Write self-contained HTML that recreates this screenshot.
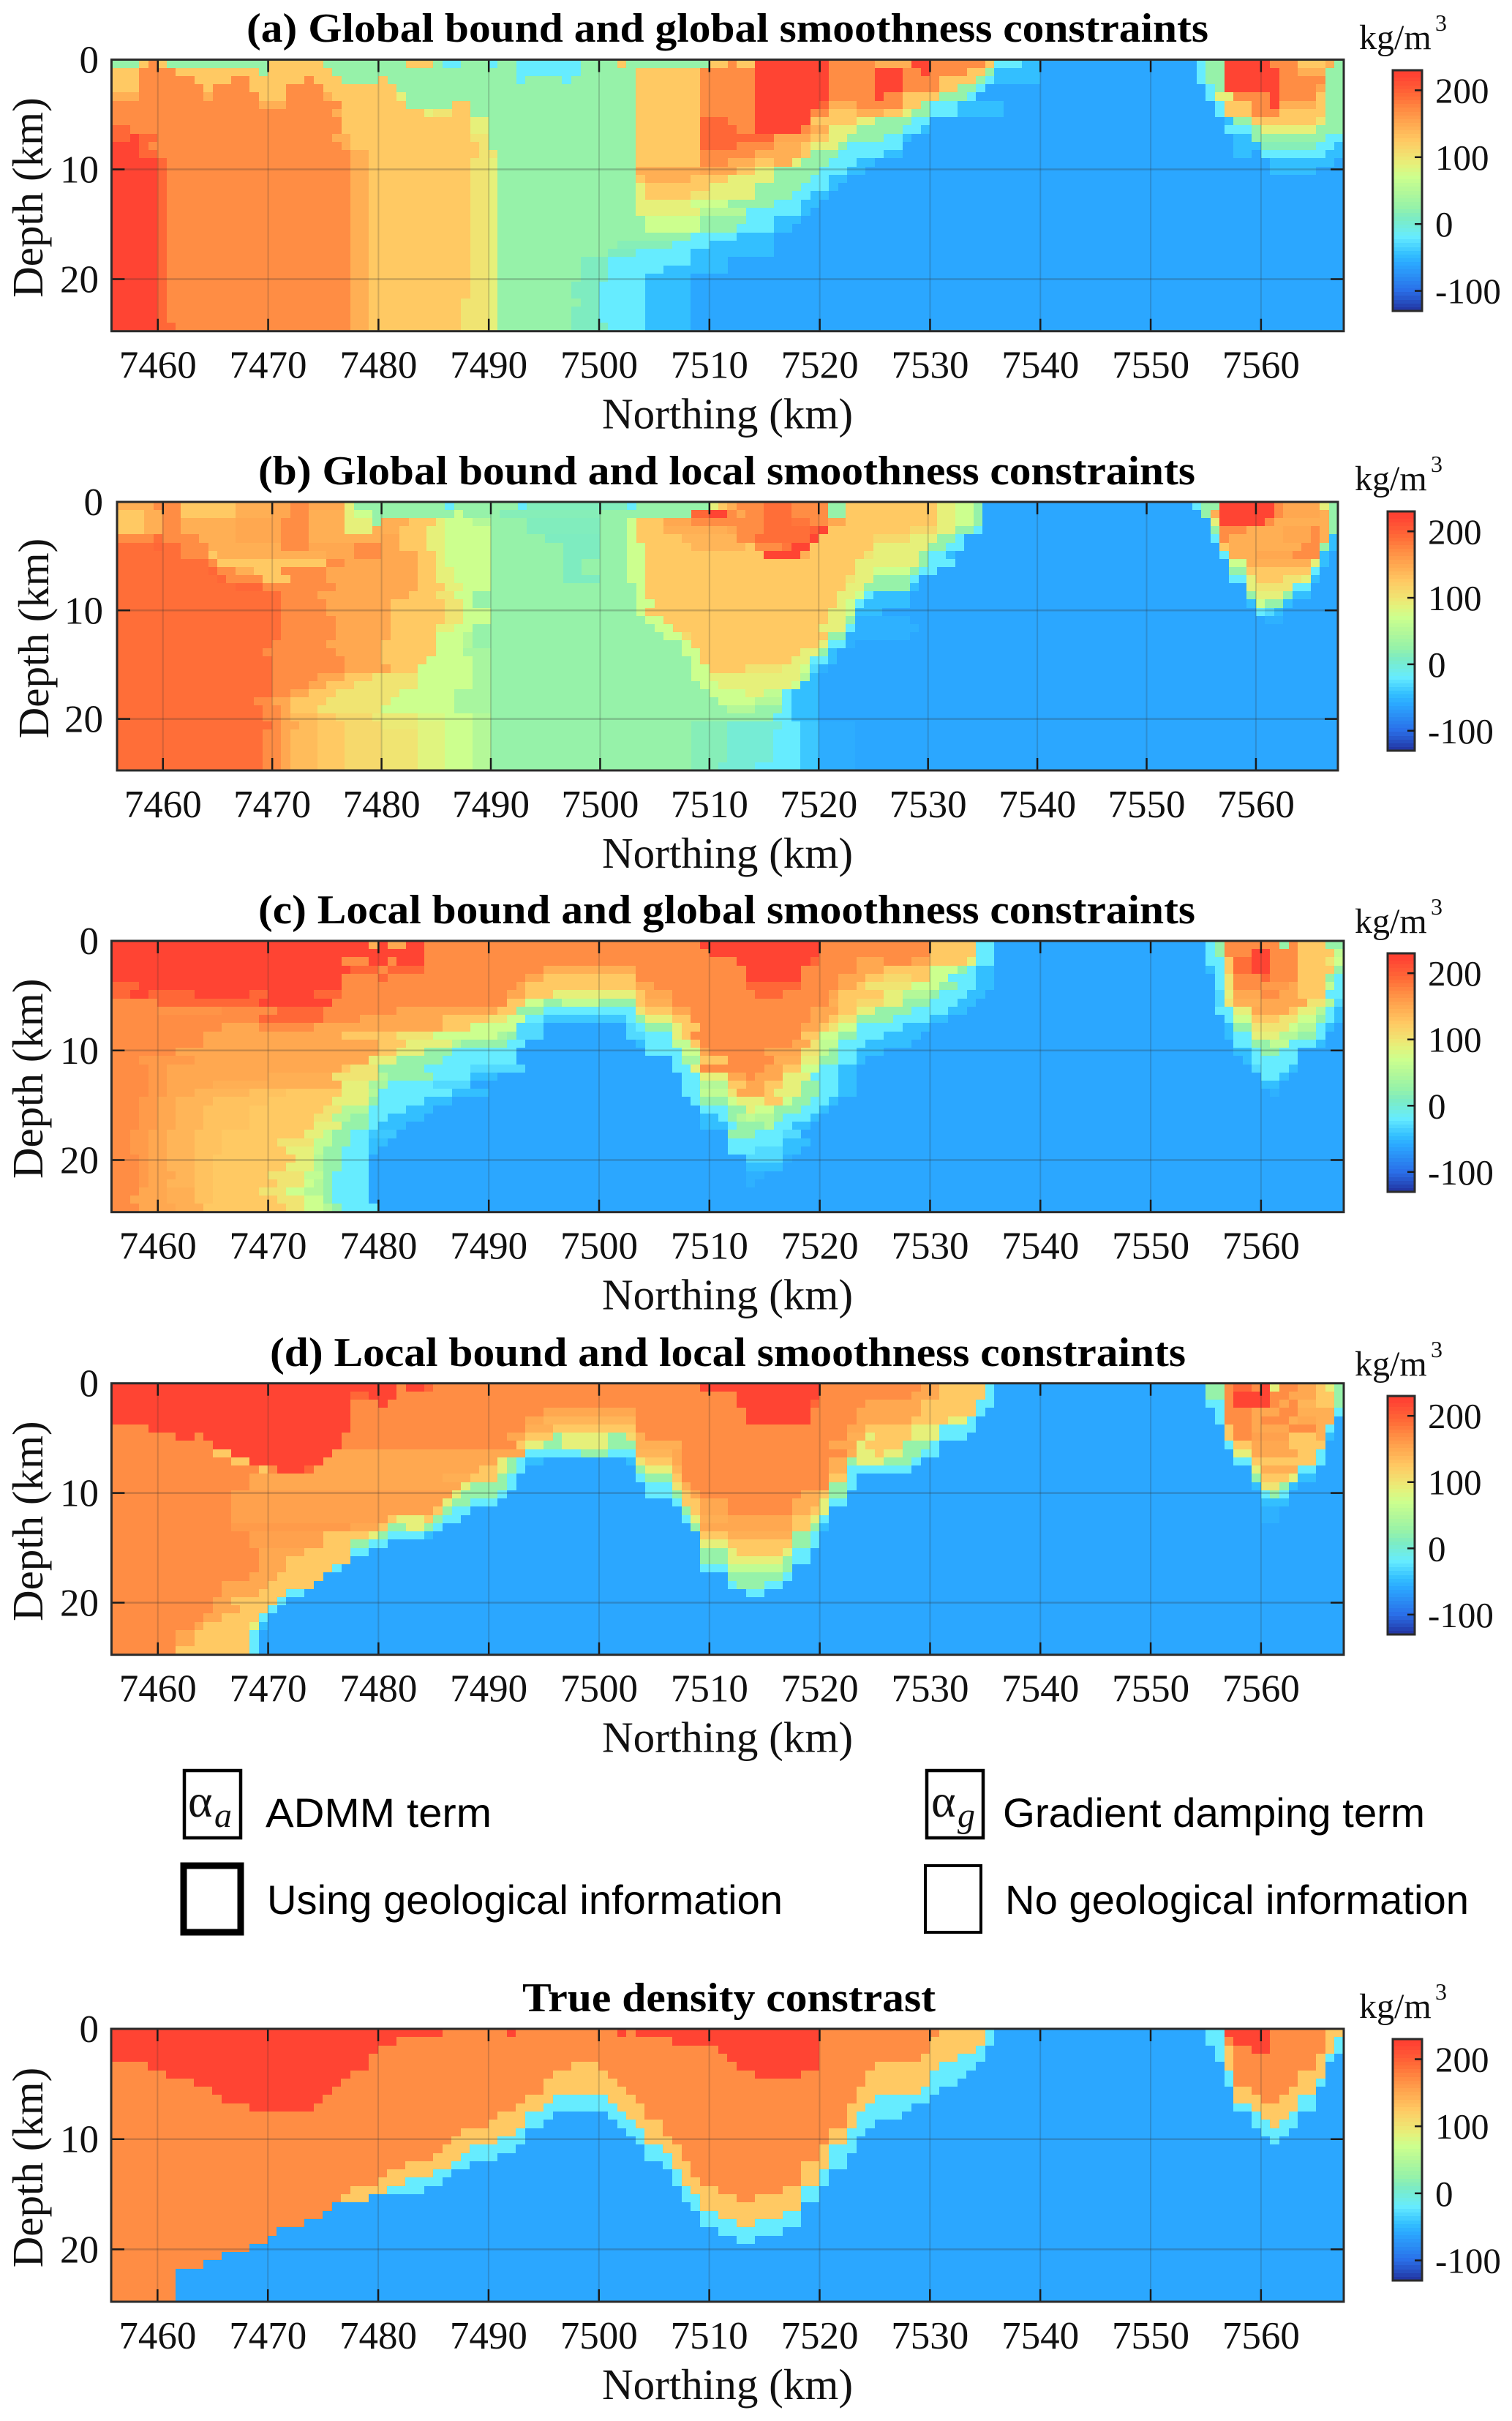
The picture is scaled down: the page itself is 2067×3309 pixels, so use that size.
<!DOCTYPE html>
<html lang="en">
<head>
<meta charset="utf-8">
<title>Density contrast inversion sections</title>
<style>
html,body{margin:0;padding:0;background:#fff;}
svg{display:block;}
text{font-family:"Liberation Serif",serif;fill:#111;}
.title{font-weight:bold;font-size:56px;fill:#000;}
.legend{font-family:"Liberation Sans",sans-serif;font-size:56px;fill:#000;}
</style>
</head>
<body>
<svg id="figure" xmlns="http://www.w3.org/2000/svg" width="2067" height="3309" viewBox="0 0 2067 3309">
  <rect x="0" y="0" width="2067" height="3309" fill="#fff"/>
  <text class="title" x="337" y="57" textLength="1315" lengthAdjust="spacingAndGlyphs">(a) Global bound and global smoothness constraints</text>
  <text class="title" x="353" y="662" textLength="1281" lengthAdjust="spacingAndGlyphs">(b) Global bound and local smoothness constraints</text>
  <text class="title" x="353" y="1262" textLength="1281" lengthAdjust="spacingAndGlyphs">(c) Local bound and global smoothness constraints</text>
  <text class="title" x="369" y="1867" textLength="1252" lengthAdjust="spacingAndGlyphs">(d) Local bound and local smoothness constraints</text>
  <text class="title" x="714" y="2749" textLength="565" lengthAdjust="spacingAndGlyphs">True density constrast</text>

  <g>
    <rect x="252" y="2420" width="77" height="92" fill="none" stroke="#000" stroke-width="4.5"/>
    <text x="257" y="2483" font-size="64" fill="#000">α</text>
    <text x="293" y="2497" font-size="48" font-style="italic" fill="#000">a</text>
    <text class="legend" x="363" y="2497" textLength="309" lengthAdjust="spacingAndGlyphs">ADMM term</text>

    <rect x="1267" y="2420" width="77" height="92" fill="none" stroke="#000" stroke-width="4.5"/>
    <text x="1273" y="2483" font-size="64" fill="#000">α</text>
    <text x="1309" y="2497" font-size="48" font-style="italic" fill="#000">g</text>
    <text class="legend" x="1371" y="2497" textLength="577" lengthAdjust="spacingAndGlyphs">Gradient damping term</text>

    <rect x="251" y="2550" width="78" height="91" fill="none" stroke="#000" stroke-width="9"/>
    <text class="legend" x="365" y="2616" textLength="705" lengthAdjust="spacingAndGlyphs">Using geological information</text>

    <rect x="1265" y="2550" width="76" height="91" fill="none" stroke="#000" stroke-width="4"/>
    <text class="legend" x="1374" y="2616" textLength="634" lengthAdjust="spacingAndGlyphs">No geological information</text>
  </g>
</svg>
<script>
// Axis tick values
const northingTicks = [7460,7470,7480,7490,7500,7510,7520,7530,7540,7550,7560];
const depthTicks = [0,10,20];
const colorbarTicks = [200,100,0,-100];

// Colour map: density value -> colour
const colormapValues = [-130,-100,-60,-45,-20,10,25,50,70,90,100,125,150,170,190,220,230];
const colormapColors = ['#22329e','#2a6fe8','#2ba7ff','#33bfff','#66ecff','#7eecc0','#96f2a9','#b4f898','#ccff8e','#e6f07a','#f0e472','#ffc963','#ffa850','#ff8d44','#ff6e38','#ff4433','#ff4030'];

// Each row is one depth slice of 0.75 km: value, end-northing (minus 7400), value, end-northing ...
const panelA = [
[25,58.3,125,59.1,170,60,125,60.9,25,70,125,75.1,25,82.7,125,85.2,25,86,-20,87.8,25,90.2,-20,91,25,92.8,-20,98.7,25,102,125,102.8,25,110,125,111.3,170,112.2,125,113.8,220,120.5,170,124.7,145,128,220,130,170,134.7,125,135.6,-20,138.2,-45,139.9,-60,154,-20,154.9,25,156.6,220,160.8,170,163.3,125,166,145,166.7,25,168],
[125,58.3,170,61.7,125,69.2,25,70,125,76,25,92.8,-20,98.7,25,103.7,125,109.5,170,113.8,220,120.5,170,124.7,220,127.2,170,129.2,220,130,170,133.1,125,134.7,25,135.6,-45,139.9,-60,154,-20,154.9,25,156.6,220,161.7,170,163.3,145,165.8,25,168],
[125,58.3,170,63.4,125,66.8,170,68.4,125,73.4,170,74.3,125,76.5,25,80.1,125,81,25,92.8,-20,93.6,25,96.9,-20,97.8,25,103.7,125,109.5,170,113.8,220,120.5,170,124.7,220,127.2,170,130.6,125,133.9,25,134.7,-20,135.6,-45,139.9,-60,154,-20,154.9,25,156.6,220,161.7,170,165.8,25,168],
[125,58.3,170,64.2,125,65.1,170,68.4,125,71.8,170,75.1,125,81.9,25,103.7,125,108.8,195,109.5,170,113.8,220,120.5,170,124.7,220,127.2,170,130.6,125,132.2,25,133.9,-20,134.7,-60,154.9,-20,155.7,25,156.6,220,161.7,170,164.9,150,165.8,25,168],
[145,58.3,170,64.2,145,65.1,170,69.2,125,71.8,170,75.1,145,76,125,81.9,90,82.7,25,103.7,125,108.8,195,109.5,170,113.8,220,120.5,170,124.7,220,125.5,170,127.2,125,130.6,25,133.1,-20,133.9,-60,154.9,-20,155.7,90,157.5,170,160.8,220,161.7,170,164.9,125,165.8,25,168],
[170,69.2,145,71.8,170,76.8,125,82.7,25,86.9,125,88.6,25,103.7,125,108.8,195,109.5,170,113.8,220,119.7,195,120.5,145,123,170,127.2,125,128.9,25,129.8,-20,132.2,-45,136.4,-60,155.7,-20,156.6,125,159.2,170,160.8,220,161.7,145,164.9,125,165.8,25,168],
[170,76,145,76.8,125,84.4,90,85.2,100,86.9,125,88.6,25,103.7,125,108.8,195,109.5,170,113.8,220,118.8,170,120.5,125,123,145,125.5,125,127.2,90,128.1,25,129.8,-20,132.2,-45,136.4,-60,155.7,-20,156.6,125,159.2,170,161.7,125,165.8,25,168],
[170,76.8,125,88.6,90,90.2,25,103.7,125,108.8,195,111.3,170,113.8,220,118.8,170,119.5,125,123,90,124.7,25,128.1,-20,129.8,-60,156.6,-45,157.5,25,159.2,125,164.9,100,165.8,25,168],
[195,57.5,170,76.8,125,88.6,90,90.2,25,103.7,125,108.8,195,112.2,170,113.8,220,118,170,119.5,145,120.5,90,123,25,127.2,-20,128.9,-45,129.8,-60,156.6,-20,159.2,25,160,90,164.9,25,168],
[195,57.5,220,58.3,195,60,170,76,145,77.6,125,88.6,100,90.2,25,103.7,125,108.8,195,113.8,195,116.2,150,118.8,125,120.5,90,122.4,25,125.5,-20,127.2,-45,128.1,-60,157.5,-45,159.2,25,165.8,-20,168],
[220,58.3,195,59.1,170,77,145,77.6,125,89.5,100,90.2,25,103.7,125,108.8,195,112.2,170,116.2,145,118,125,119.5,90,121.5,25,122.4,-20,127.2,-60,157.5,-45,160,15,164.9,-20,166.7,-45,168],
[220,58.3,195,60,170,77.6,145,79.3,125,89.5,100,90.6,25,103.7,125,108.8,170,113.8,145,118,125,118.8,90,119.5,25,121.5,-20,125.5,-45,127.2,-60,157.5,-45,159.2,-60,160,-20,165.8,-45,168],
[220,60,195,60.9,170,77.6,145,79.3,125,88.6,100,90.2,90,91,25,103.7,125,108.8,170,111.3,145,113.8,125,116.2,145,117.1,90,118,25,120.6,-20,123,-45,124.7,-60,160.8,-45,166.7,-60,168],
[220,60,195,60.9,170,77.6,145,79.3,125,88.6,100,90.2,90,91,25,103.7,145,108.8,150,112.2,125,114,90,116.2,25,119.7,-20,122.4,-45,124,-60,160.8,-45,164.9,-60,168],
[220,60,195,60.9,170,77.6,145,79.3,125,88.6,100,90.2,90,91,25,103.7,125,104.5,145,107.9,125,112,90,116.2,25,118.8,-20,120.6,-45,122.4,-60,168],
[220,60,195,60.9,170,77.6,145,79.3,125,88.6,100,90.2,90,91,25,103.7,90,104.5,125,110,90,114,25,118,-20,120.6,-45,122,-60,168],
[220,60,195,60.9,170,77.6,145,79.3,125,88.6,100,90.2,90,91,25,103.7,90,104.5,125,107.9,100,110,90,114,25,117.1,-20,118.8,-45,120.6,-60,168],
[220,60,195,60.9,170,77.6,145,79.3,125,88.6,100,90.2,90,91,25,103.7,90,108,70,112,25,116.2,-20,118,-45,119.7,-60,168],
[220,60,195,60.9,170,77.6,145,79.3,125,88.6,100,90.2,90,91,25,103.7,90,109.5,50,113,-20,118,-45,118.8,-60,168],
[220,60,195,60.9,170,77.6,145,79.3,125,88.6,100,90.2,90,91,25,104.5,70,108.8,25,113,-20,116.2,-45,118,-60,168],
[220,60,195,60.9,170,77.6,145,79.3,125,88.6,100,90.2,90,91,25,104.5,70,108.8,25,112.2,-20,116.2,-45,117.1,-60,168],
[220,60,195,60.9,170,77.6,145,79.3,125,88.6,100,90.2,90,91,25,107.9,-20,112.2,-45,116.2,-60,168],
[220,60,195,60.9,170,77.6,145,79.3,125,88.6,100,90.2,90,91,25,101.5,15,106.7,-20,110,-45,116,-60,168],
[220,60,195,60.9,170,77.6,145,79.3,125,88.6,100,90.2,90,91,25,101,10,103.7,-20,108,-45,116.2,-60,168],
[220,60,195,60.9,170,77.6,145,79.3,125,88.6,100,90.2,90,91,25,98.7,10,101,-20,107.9,-45,111.3,-60,168],
[220,60,195,60.9,170,77.6,145,79.3,125,88.6,100,90.2,90,91,25,98.7,10,101,-20,106,-45,111.3,-60,168],
[220,60,195,60.9,170,77.6,145,79.3,125,88.6,100,90.2,90,91,25,98.7,10,100.5,-20,104.5,-45,107.9,-60,168],
[220,60,195,60.9,170,77.6,145,79.3,125,88.6,100,90.2,90,91,25,97.8,10,100.2,-20,104.5,-45,107.9,-60,168],
[220,60,195,60.9,170,77.6,145,79.3,125,88.6,100,90.2,90,91,25,97.8,10,100.2,-20,104.5,-45,107.9,-60,168],
[220,60,195,60.9,170,77.6,145,79.3,125,87.8,100,90.2,90,91,25,98.7,10,100.2,-20,104.5,-45,107.9,-60,168],
[220,60,195,60.9,170,77.6,145,79.3,125,87.8,100,90.2,90,91,25,97.8,10,100.2,-20,104.5,-45,107.9,-60,168],
[220,60,195,60.9,170,77.6,145,79.3,125,87.8,100,90.2,90,91,25,97.8,10,100.2,-20,104.5,-45,107.9,-60,168],
[220,60,195,61.7,170,77.6,145,79.3,125,87.8,100,90.2,90,91,25,97.8,10,100.5,-20,104.5,-45,107.9,-60,168]
];

const panelB = [
[145,59.2,170,61.7,125,66.6,145,70,150,71.7,170,73.5,150,76.8,90,77.6,25,86.1,-20,86.9,25,92.8,-20,93.7,12,102.7,-20,103.6,25,110,90,111,125,112,145,112.9,170,114.6,190,117.1,170,120.5,25,122.1,125,130.5,90,132.2,70,133.9,25,134.7,-60,154,-20,154.9,25,156.6,220,161.7,170,162.6,150,165.9,90,166.7,25,168],
[125,58.3,145,60,170,62,125,66.6,145,70,150,71.7,170,73.5,145,76.8,90,77.6,70,79.4,25,86.9,70,87.7,25,91,15,100,25,108.7,195,109.7,220,111.3,170,112.2,150,113,170,114.6,190,117.1,170,120.5,25,122.1,125,130.5,90,132.2,70,133.9,25,134.7,-60,154.9,25,155.7,145,156.6,220,161.7,170,162.6,150,165.9,145,166.7,25,168],
[125,58.3,145,60,170,61.7,145,66.6,150,71,170,73.5,145,76.8,90,79.4,25,80,145,82.7,125,85.2,90,86.1,70,88.6,50,90,25,93.7,12,100,25,102.7,70,103.6,125,106.2,150,108.7,170,114.6,190,117.1,185,118.8,170,120.5,150,122.1,125,130.5,90,132.2,70,133.9,25,134.7,-60,155.7,90,156.6,220,160.8,170,161.7,145,166.7,25,168],
[125,58.3,145,60,170,61.7,145,66.6,150,71,170,73.5,145,76.8,90,79.4,145,81.8,125,84.4,90,86.1,70,90,25,93.7,12,100,25,102.7,70,103.6,125,106.2,145,112,150,112.9,170,114.6,190,118.8,200,119.7,220,120.5,125,128,110,130.5,90,132.2,25,133.9,-20,134.7,-60,155.7,25,156.6,170,159.2,145,162.6,150,165,170,165.9,145,166.7,25,168],
[170,59,190,60,170,63.3,145,66.6,150,71,170,73.5,145,80,150,81.8,125,84.4,90,86.1,70,90,25,95.2,10,100,25,102.7,70,103.6,125,107.1,140,112.9,170,114,190,118.8,220,119.7,125,124.7,110,128.1,90,130.5,25,132.2,-20,133.1,-60,155.7,-20,156.6,170,157.4,145,162.6,150,165,170,165.9,145,166.7,-45,168],
[190,59.2,195,60,190,61.7,170,64.2,145,71,170,73.5,150,77.6,170,80,150,81.8,125,84.4,90,86.1,70,90,25,96.3,10,100,25,102.7,70,104.5,125,108,140,113,125,113.8,170,116.4,185,117.1,220,118.8,125,124.7,90,129.8,25,131.4,-20,133,-60,156.6,125,157.4,145,164.2,170,165.9,25,166.7,-45,168],
[190,61.7,170,64.2,125,65.1,145,75.2,150,77.6,170,80,150,83,125,85,90,86,70,90,25,96.3,10,100,25,102.7,70,104.5,125,114.6,220,118,145,118.8,125,123.9,100,124.7,90,128.9,25,129.8,-20,131.4,-45,132.2,-60,156.6,-20,157.4,145,160,150,163.4,170,165.9,-45,166.7,-60,168],
[190,64.2,170,65.1,125,75.2,170,76.8,150,83,125,85,90,86,70,90,25,97,10,98.5,25,102.7,70,104.5,125,123,90,128.9,25,130,-20,132.2,-60,157.4,70,159.2,145,165,90,165.9,-45,166.7,-60,168],
[190,64.2,195,65.1,170,66.6,145,68.4,125,71,170,75.2,150,83,125,85.2,90,86.9,70,90,25,96.3,10,98.5,25,102.7,70,104.5,125,123,90,124.7,70,128.1,25,129.3,-20,131,-60,157.4,25,159.2,125,165,-20,165.9,-60,168],
[190,65.1,195,66,170,69.3,125,71.7,170,75.2,150,83,125,85.2,90,86.9,70,90,25,96.3,10,100,25,102.7,70,104.5,125,122.1,100,123,90,124.7,25,128.1,-20,128.9,-60,157.4,-20,159.2,90,160,125,162.6,100,164.2,90,165,-45,165.9,-60,168],
[190,66.6,195,69.3,170,76,150,83.6,125,85.5,90,87.7,70,90,25,103.6,70,104.5,125,122.1,90,123.9,25,128.1,-45,128.9,-60,159.2,90,160,100,163.4,-20,165,-60,168],
[190,70.5,170,74,150,82.7,125,85.2,100,86.9,70,88.6,25,103.6,70,104.5,125,122,90,123,70,123.9,-20,124.7,-45,128,-60,159.2,25,160,90,162.6,25,163.4,-45,165,-60,168],
[190,71,170,75,150,81,125,86,100,87.7,70,88.6,25,103.6,70,105,125,122,90,122.6,70,123,-20,123.9,-45,128,-60,159.2,-45,160,70,161,25,162.6,-45,163.4,-60,168],
[190,71,170,75,150,81,125,86,100,87.7,70,90,25,103.6,70,104.5,125,121,90,122.1,70,123,-45,126,-60,160,-20,160.8,-30,161.7,-45,162.6,-60,168],
[190,71,170,76,150,81,125,86,100,87.7,70,90,25,104.5,70,106,125,120.5,90,122.1,25,123,-54,128,-60,160.8,-54,162.6,-60,168],
[190,71,170,76,150,81,125,85.2,90,86.9,70,88,25,105,70,107,125,120,90,122.1,-20,123,-54,129,-60,168],
[190,71,170,76,150,81,125,85.2,70,87.7,50,88.6,25,106.2,70,107.5,110,108,125,120.5,25,122.1,-54,128,-60,168],
[190,70,170,75,150,80,125,85.2,70,87.7,50,88.6,25,107.1,70,108.2,125,119.7,90,120.5,-20,122.1,-54,123,-60,168],
[190,69,170,75.5,150,80,125,85.2,70,87.7,40,90,25,107.5,70,109,125,118,90,119.7,25,120.5,-45,122,-60,168],
[190,70,170,76.8,150,80,125,84.5,70,88.6,40,90,25,108,70,109.5,125,117.1,90,119,-20,120.5,-45,122,-60,168],
[190,70,170,76.8,150,80.9,125,83.6,70,88.6,40,90,25,108.7,70,110,125,113,100,116.4,90,118,70,118.8,-30,120,-54,121,-60,168],
[190,70,170,74,150,76.5,125,79.4,100,83,70,88.6,40,90,25,108.7,70,110,90,118,50,118.8,-45,120,-60,168],
[190,70,170,73,150,75.2,125,77.6,100,83,70,88,40,90,25,109.5,70,111,90,117.1,70,118,-45,120,-60,168],
[190,70,170,72,150,73.5,125,76,100,82,70,87,40,90,25,110,70,113,90,114.6,60,116.4,-20,117.5,-45,119.7,-60,168],
[190,68,170,70,150,71.7,125,75,100,81,70,87,40,90,25,111,70,114,50,116.4,-20,117.1,-45,119.7,-60,168],
[190,69,170,70.5,150,72,125,74,100,80,70,87,40,90,25,112,50,113.8,25,116.4,-20,117.7,-45,119.7,-60,168],
[190,69.5,170,70.5,150,72,135,74,125,76,110,79.4,95,83,80,85.5,70,88.6,50,90,25,115.5,-20,117.7,-45,119.7,-60,168],
[190,70,170,71,150,72.5,135,74.5,125,76.5,110,80,95,83,85,85.5,70,88.6,50,90,25,108.7,15,112,0,116.4,-20,118,-40,119.8,-56,123,-60,168],
[190,69,170,70.5,150,72,135,74.5,125,77,110,80,100,83,85,85.5,70,88.6,50,90,25,108.7,15,111.5,0,115.5,-20,118,-40,119.8,-56,123,-60,168],
[190,69,170,70.5,150,72,135,74.5,125,77,110,80,100,83,85,85.5,70,88.6,50,90,25,108.7,15,111.5,0,115.5,-20,118,-40,119.8,-56,123,-60,168],
[190,69,170,70.5,150,72,135,74.5,125,77,110,80,100,83,85,85.5,70,88.6,50,90,25,108.7,15,111.5,0,115.5,-20,118,-40,119.8,-56,123,-60,168],
[190,69,170,70.5,150,72,135,74.5,125,77,110,80,100,83,85,85.5,70,88.6,50,90,25,108.7,15,111.5,0,115.5,-20,118,-40,119.8,-56,123,-60,168],
[190,69,170,70.5,150,72,135,74.5,125,77,110,80,100,83,85,85.5,70,88.6,50,90,25,108.7,15,111,0,114,-20,118,-40,119.8,-56,123,-60,168]
];

const panelC = [
[220,79.3,145,80.1,220,81,150,82.7,220,84.4,170,108.8,220,119.6,170,129.7,125,133.9,-20,135.6,-60,154.9,-20,155.7,25,156.6,170,161.7,25,162.5,170,163.4,125,165.8,25,168],
[220,84.4,170,110,220,119.6,170,129.7,125,133.9,-20,135.6,-60,154.9,-20,156,25,156.6,170,159.4,220,160.8,170,163.4,125,166.7,60,168],
[220,76.8,170,79.3,220,80.9,170,81.5,220,84.4,170,112.2,220,118.8,195,119.6,170,123,150,125.6,170,128,150,129.7,125,133,90,133.9,-20,135.6,-60,154.9,-20,156.6,125,157.4,190,159.4,220,160.8,170,163.4,125,165.8,100,166.7,70,168],
[220,77.6,195,80,170,81,195,84.4,170,95.2,145,103,170,113.5,220,118,170,123,150,125.6,125,129.7,70,132.2,25,133,-20,134.5,-45,135.6,-60,155,-45,155.7,-20,156.6,125,157.4,190,159.1,220,160.8,170,163.4,125,166.7,25,168],
[220,76.8,170,80.1,195,81,170,93.6,150,95.2,125,102.9,145,103.7,170,113.7,220,118,170,122,150,123.8,125,125.6,110,128,125,129.7,70,131.4,25,132,-20,134,-45,135.6,-60,155.7,-20,156.6,100,157.4,170,160,195,160.8,170,163.4,125,165.8,25,166.7,-20,168],
[195,58.3,220,76.8,170,92.8,150,93.6,125,103.7,150,105,170,113.7,195,118,170,121.3,150,123,125,124.5,100,128,70,131,25,132.2,-20,133.9,-45,135.6,-60,155.7,-20,156.6,100,157.4,170,160,160,162.5,150,163.4,125,165.8,60,166.7,-20,168],
[195,57.5,220,59.1,195,63,220,68,195,70,220,74.3,195,76.8,170,92,150,93.6,125,96.1,90,102.9,125,104.5,150,106.3,170,114,195,116.3,170,121,150,122,125,125.6,90,127.3,50,129.7,25,130.5,-20,133,-45,135,-60,155.7,-30,156.6,90,157.4,150,160,170,162,150,163.4,125,166,-20,168],
[170,60,195,69.2,220,76,170,92,125,93.6,70,95.2,25,96.9,60,100.2,25,102.9,125,104.5,145,106.3,170,121,145,122,125,123,110,125.6,90,127.3,25,130,-20,132.2,-45,133.9,-60,155.7,-30,156.6,100,157.4,145,160,150,164,100,165.8,50,166.7,-30,168],
[170,60,165,66,170,71,195,75.1,170,82,150,91,125,92.8,25,95.2,-20,102.9,100,104.5,125,106.3,150,108,170,118.8,150,121.3,125,123,90,125,25,128,-20,131.4,-45,133,-60,155.7,-20,157.4,90,159.1,150,162.5,125,163.4,90,165,50,165.8,-20,166.7,-45,168],
[170,69,195,75,170,78,150,86,125,90,100,92,70,93.6,-20,95.2,-40,102.1,-20,102.9,25,104.5,90,106.3,125,108,170,118.8,150,120.5,125,121.5,100,123,25,127,-20,130,-45,132,-60,156.6,-20,157.4,70,159.1,125,162,100,163.4,70,165,25,165.8,-20,166.7,-45,168],
[170,66,150,69,170,74,150,86,125,88.6,70,92.8,-30,95.2,-60,102.1,-30,103.7,-20,104.5,25,106.3,90,107.5,125,109,170,118,150,119.6,125,120.5,100,122,70,123,-20,127.3,-45,130,-60,156.6,-45,157.4,25,159.1,100,162.5,70,163.4,50,165,-20,165.8,-45,166.7,-60,168],
[170,64,150,76.8,125,81.9,100,85.2,70,90.4,40,92,25,92.8,-30,95.2,-60,102.5,-30,104.5,-20,106.3,90,107.1,125,108.5,170,118,125,120,70,121.3,25,123,-20,125.6,-45,129,-60,156.6,-45,157.4,-20,159.1,90,161.7,50,163.4,25,165,-20,166,-60,168],
[170,64,150,80.1,125,82.7,90,86.9,50,87.8,25,92,-20,93.6,-60,102.9,-45,104.5,-20,106.3,60,108,125,109.5,170,117.1,150,118.8,100,120,60,121.3,25,122,-20,124,-45,128,-60,157.4,-20,159.1,25,160.8,60,162.5,-20,165,-45,165.8,-60,168],
[170,62,150,80.1,125,81.9,90,84.4,25,86.9,-20,92.8,-60,104.5,-20,107.1,70,108.8,150,110,170,115,150,118,100,119.6,60,120.5,25,122,-20,123.5,-45,125.6,-60,157.4,-45,159.1,-20,160,25,161.7,-20,163.4,-60,168],
[170,58.3,160,63,150,79.3,90,81.9,25,86,-20,92.8,-60,106.3,-20,107.1,40,108.8,125,111.3,170,116,145,118,90,119.6,25,121.3,-20,123,-45,123.8,-60,158,-45,159.1,-20,163,-60,168],
[170,59,160,61,150,76.8,125,77.6,100,80.1,25,84.4,-20,88.6,-30,93,-60,106.3,-20,108,90,109.5,170,114.6,150,116.3,125,118,70,119.6,-20,122,-45,123,-60,159.1,-30,160,-20,162.5,-45,163.4,-60,168],
[170,59,160,61,150,70,145,76,100,80.1,50,81,25,85.2,-20,88.6,-45,91,-60,107.1,-20,108.8,90,111.3,150,113,170,114,150,117,90,118.8,-20,121.3,-45,123,-60,160,-20,161.7,-45,162.5,-60,168],
[170,59,160,61,150,65,145,76.8,90,79.3,40,81,-20,85.2,-30,88.6,-60,107.1,-20,108.8,50,111.3,125,113,150,115,125,117,90,118,25,119.6,-20,121.3,-45,123,-60,160,-45,161.7,-60,168],
[170,59,160,61,150,63,140,68,130,72,125,76.8,90,79.3,50,80.1,-20,86.9,-45,90,-60,107.1,-20,108.8,30,109.5,60,111.3,100,112.2,150,114.6,125,116,90,118,25,119.6,-20,121.3,-45,123,-60,161,-54,161.7,-60,168],
[170,58.3,160,60,150,62,140,65,130,70,125,76,90,79.3,25,80.1,-20,84.4,-45,86.9,-60,108,-20,109.5,25,111.3,70,112.9,90,114.6,125,116.3,70,117.1,25,118.8,-20,120.5,-45,121.3,-60,168],
[170,58.3,160,60,150,62,140,64,130,68,125,75.1,100,76.8,50,79.3,-20,82.7,-45,85.2,-60,108.8,-20,111.3,25,113,90,114,70,116,25,118,-20,119.6,-45,120.5,-60,168],
[170,58.3,160,60,150,62,140,64,130,68,125,74.3,100,76,50,77.6,25,79.3,-20,81,-45,84.4,-60,109.5,-45,110.5,-20,111.3,25,112.2,50,113,60,114,50,116,25,117,-20,118.8,-45,119.6,-60,168],
[170,58.3,160,60,150,62,140,64,130,68,125,74.3,90,76.8,25,79.3,-20,80.1,-45,82.7,-60,109.5,-45,111.3,-20,112.2,25,114.6,50,116,-20,117.1,-45,118.8,-60,168],
[170,57.5,160,59,150,61,140,63,130,66,125,73.6,90,75.1,60,76,25,77.6,-20,79.3,-40,81.9,-60,111.3,-20,112,25,114,-20,116.3,-30,118,-60,168],
[170,57.5,160,59,150,61,140,63,130,66,125,71,100,74.3,60,76,25,77.6,-20,79.3,-45,81,-60,112,-20,116.3,-45,118.8,-60,168],
[170,57.5,160,59,150,61,140,63,130,66,125,71.9,90,74.3,60,75.1,25,76.8,-20,79.3,-45,80.1,-60,112,-20,114,-30,116.3,-45,118,-60,168],
[170,58.3,160,59.5,150,61,140,63,130,65,125,72.5,90,74.3,50,75.1,25,76.8,-20,79.3,-60,113,-30,116.3,-54,117.1,-60,168],
[170,58.3,160,59.5,150,61,140,63,130,65,125,71.9,90,74.3,50,75.1,25,76.8,-20,79.3,-60,113,-45,116.3,-60,168],
[170,58.3,160,59.5,150,61.7,140,63,130,65,125,70,100,73.4,60,75.1,25,76,-20,79.3,-60,113,-54,115,-60,168],
[170,58.3,160,59.5,150,60.9,140,63,130,65,125,71,100,73,70,74.3,50,75.1,25,76,-20,79.3,-60,113,-54,114,-60,168],
[170,58,150,60.9,145,63,130,65,125,69.2,100,71.9,70,73.4,50,75.1,25,76,-20,79.3,-60,168],
[170,57.5,150,61,145,63.4,130,65,125,71,100,73.4,70,75.1,25,76,-20,79.3,-60,168],
[170,58.3,150,61.7,145,64,125,71.9,100,73.4,70,75.1,50,76,25,76.8,-20,80.1,-60,168]
];

const panelD = [
[220,81.9,170,82.7,220,84.4,195,85.2,170,108.8,220,119.7,170,128.8,150,130.5,125,134.8,-20,135.6,-60,154.9,25,156.6,170,157.4,195,159.1,170,160,220,160.8,90,161.7,170,163.4,150,165,125,165.8,90,166.7,25,168],
[220,77.6,195,79.3,220,81.9,170,112.2,220,119.7,170,128,150,130.5,125,134.8,-20,135.6,-60,154.9,25,156.6,170,157.4,220,160.8,170,162.5,150,165,125,166.7,25,168],
[220,77.6,170,80.1,220,81,170,112.9,220,118.8,195,119.7,170,123.8,150,128.8,125,133.9,-20,135.6,-60,154.9,-20,156.6,170,157.4,220,160.8,170,161.7,150,162.5,170,163.4,140,165,125,166.7,25,168],
[220,77.6,170,95.2,150,102.9,170,113.2,220,118.8,170,123,150,128.8,125,133.9,-20,134.8,-60,155.7,-20,156.6,170,159.1,150,161.7,170,163.4,145,166.7,-20,168],
[220,77.6,170,93.6,150,95.2,140,102.9,170,113.5,220,118.8,170,123,150,128,125,131.4,90,133,-20,133.9,-60,155.7,-20,156.6,170,159.1,150,160,170,162.5,145,163.4,150,165,145,166.7,-60,168],
[170,59.1,220,77.6,170,93.6,145,96.1,125,102.9,170,122.2,150,123.8,125,128,90,130.5,-20,133.9,-60,156.6,125,157.4,170,159.1,150,162.5,170,165,145,165.8,-20,166.7,-60,168],
[170,61.7,220,63.4,170,64.2,220,76.8,170,92,150,93.6,125,96.1,25,96.9,90,101.1,25,102.1,110,102.9,145,104.5,170,122.2,145,123.8,90,124.7,125,128,90,130.5,-20,133,-60,156.6,125,157.4,170,159.1,155,162.5,125,165,145,165.8,-45,166.7,-60,168],
[170,65.1,220,76.8,170,92.8,125,93.6,90,95.2,25,96.9,90,101.1,25,102.9,145,107.8,170,120.5,150,123,90,123.8,125,127.4,25,129.8,-20,130.5,-60,156.6,-20,157.4,125,159.1,150,162.5,125,165.8,-60,168],
[170,65.1,125,66.8,220,76,150,93.6,-20,98.6,25,101.1,-20,102.9,25,103.7,140,106.3,150,107.8,170,122.2,145,123,90,124.7,125,125.6,90,127.4,25,128.9,-20,130.5,-60,157.4,90,159.1,150,163.4,125,165,-20,165.8,-60,168],
[170,66.8,125,68.4,220,75.1,150,91.2,90,92,25,92.8,-20,93.6,-45,95.2,-60,102.1,-45,102.9,-20,103.7,100,104.5,125,106.3,150,107.8,170,120.5,145,122.2,25,123,90,125.6,25,128,-20,128.9,-60,157.4,-20,159.1,125,165,-20,165.8,-60,168],
[170,69.2,125,70,170,70.9,220,73.5,195,74.2,150,89.5,125,91.2,90,92,25,92.8,-20,93.6,-60,102.9,-20,103.7,25,104.5,90,106.3,140,107.8,170,120.5,145,122.2,-20,128,-60,159.1,90,160,145,163.4,-20,165,-60,168],
[170,68.4,150,86,145,88.6,125,90.4,90,91.2,25,92,-20,92.8,-60,102.9,-20,104.5,25,106.3,125,107.1,150,107.8,170,120.5,125,122.2,-20,123,-60,159.1,25,160,125,162.5,90,163.4,-45,165,-60,168],
[170,68.4,150,87.8,90,88.6,25,92,-20,92.8,-60,103.9,-20,106.3,100,107.1,145,108,170,120.5,25,122.2,-20,123,-60,159.1,-45,160,100,161.7,25,162.5,-45,163.4,-60,168],
[170,66.6,155,86.9,90,87.8,25,90.4,-20,92,-60,104.5,-20,106.3,25,107.1,125,108,150,109.5,170,118,145,119.6,125,120.5,25,122.2,-60,160,-20,160.8,25,161.7,-20,162.5,-60,168],
[170,66.6,155,86,90,86.9,25,88.6,-20,91.2,-60,106.3,-20,107.1,25,107.8,125,108.8,150,111.3,170,117.1,145,119.6,90,120.5,-20,122.2,-60,160,-45,162.5,-60,168],
[170,66.6,155,85.2,125,86,25,86.9,-20,88.6,-60,107.1,25,108,125,108.8,150,111.3,170,117.1,145,118.8,125,119.6,90,120.5,-60,160,-54,161.7,-60,168],
[170,66.6,155,81,125,81.9,90,84.4,125,85.2,25,86,-20,87.8,-60,107.1,-20,108,90,108.8,145,111.3,150,117.9,125,118.8,90,119.6,-20,120.5,-60,160,-54,161.7,-60,168],
[170,66.6,160,77.5,150,80.1,125,81,25,82.7,90,84.4,25,85.2,-20,86,-60,108,25,108.8,125,109.5,150,117.9,125,118.8,25,119.6,-45,120.5,-60,168],
[170,68.4,155,75.1,125,79.3,90,80.1,25,81,-20,84.4,-45,85.2,-60,108.8,-20,109.5,125,111.3,145,117.1,125,117.9,25,118.8,-20,119.6,-60,168],
[170,68.4,155,75.1,125,77.6,25,79.3,-20,81,-60,108.8,-20,109.5,90,111.3,125,117.1,90,117.9,25,118.8,-20,119.6,-60,168],
[170,69.2,150,73.6,125,77.6,-20,79.3,-60,109.5,25,111.3,90,112.8,125,116.3,90,117.1,25,117.9,-20,118.8,-60,168],
[170,69.2,150,71.9,125,77.6,-60,109.5,25,111.3,90,116.3,25,117.9,-20,118.8,-60,168],
[170,69.2,150,71.8,125,76,-20,76.8,-60,109.5,-20,111.3,25,112,60,116.3,25,117.1,-20,117.9,-60,168],
[170,68.4,150,70.9,125,75.1,-60,111.3,25,116.3,-20,117.1,-60,168],
[170,66,150,70,125,74.2,-60,111.3,-20,112.9,25,114.6,-20,116.3,-60,168],
[170,66,150,69.2,125,71.8,-20,73.4,-60,113,-20,114.6,-60,168],
[170,65.1,150,66.6,125,70.9,-20,71.8,-60,168],
[170,65.1,150,67.5,125,70,-20,70.9,-60,168],
[170,64.2,150,66,125,69.2,-20,70,-60,168],
[170,63.4,150,64.2,125,68.4,90,69.2,-45,70,-60,168],
[170,61.7,150,63.4,125,68.4,-20,69.2,-60,168],
[170,61.7,150,63.4,125,68.4,-20,69.2,-60,168],
[170,61.7,125,68.4,-20,69.2,-60,168]
];

const panelTrue = [
[220,86,170,91.8,220,92.7,170,102,220,102.8,170,103.6,220,120.4,170,130.5,125,134.8,-20,135.6,-60,154.9,-20,156.5,220,160.8,170,165.8,125,168],
[220,81.8,170,107,220,120.4,170,129.8,125,134.8,-20,135.6,-60,154.9,-20,156.5,170,157.4,220,160.8,170,165.8,125,166.7,-20,168],
[220,80.2,170,111.2,220,120.4,170,129.7,125,134,-20,134.7,-60,155.7,-20,156.5,125,157.4,170,159.1,220,160.8,170,165.8,125,166.7,-20,168],
[220,79.3,170,112,220,119.6,170,128.9,125,132.3,-20,134.7,-60,155.7,-20,156.5,125,157.4,170,165,125,165.8,-20,166.7,-60,168],
[170,59.1,220,79.3,170,97.8,125,100.2,170,112.9,220,119.6,170,124.7,125,130.5,-20,134,-60,156.5,125,157.4,170,165,125,165.8,-60,168],
[170,60.9,220,77.6,170,96.1,125,101.1,170,113.8,220,118.7,170,123.8,125,129.7,-20,133,-60,156.5,-20,157.4,170,163.3,125,165.8,-60,168],
[170,63.4,220,76.8,170,95.2,125,102,170,116.3,220,117,170,123.8,125,129.7,-20,132.2,-60,156.5,-20,157.4,170,163.3,125,165,-20,165.8,-60,168],
[170,65.1,220,76,170,95.2,125,102.8,170,123,125,128.9,-20,130.5,-60,157.4,125,159.1,170,162.5,125,165,-60,168],
[170,65.9,220,75.1,170,93.6,125,96.1,-20,101.1,125,103.6,170,123,125,124.7,-20,129.6,-60,157.4,125,159.9,170,161.6,125,163.3,-20,165,-60,168],
[170,68.4,220,74.3,170,92.7,125,95.2,-20,102,125,104.5,170,122.1,125,123.8,-20,128.7,-60,157.4,-20,159.1,125,163.3,-20,165,-60,168],
[170,91,125,93.6,-20,96.1,-60,101.1,-20,102.8,125,104.5,170,122.1,125,123,-20,127.2,-60,159.1,-20,159.9,125,162.5,-20,163.3,-60,168],
[170,90.2,125,93.6,-20,95.2,-60,102,-20,103.6,125,106.1,170,122.1,125,123,-20,124.7,-60,159.1,-20,160.8,125,161.6,-20,163.3,-60,168],
[170,87.7,125,92.7,-20,93.6,-60,102.8,-20,104.5,125,106.1,170,120.5,125,122.1,-20,123.8,-60,159.9,-20,162.5,-60,168],
[170,86.9,125,91,-20,93.6,-60,103.6,-20,104.5,125,107,170,120.5,125,122.1,-20,123,-60,160.8,-20,161.6,-60,168],
[170,86,125,88.6,-20,92.7,-60,104.5,-20,106.1,125,107.8,170,119.6,125,120.5,-20,123,-60,168],
[170,85.2,125,87.7,-20,91,-60,104.5,-20,107,125,107.8,170,119.6,125,120.5,-20,122.1,-60,168],
[170,82.7,125,86.9,-20,88.6,-60,106.1,-20,107,125,108.7,170,118.7,125,120.5,-20,122.1,-60,168],
[170,81,125,85.2,-20,86.9,-60,107,-20,107.8,125,108.7,170,118.7,125,119.6,-20,120.5,-60,168],
[170,80.2,125,82.7,-20,86,-60,107,-20,107.8,125,109.5,170,118,125,119.6,-20,120.5,-60,168],
[170,77.6,125,81,-20,84.3,-60,107.8,-20,108.7,125,111.2,170,117,125,118.7,-20,119.6,-60,168],
[170,76.8,125,79.3,-60,107.8,-20,109.5,125,112.1,170,114.5,125,118,-20,119.6,-60,168],
[170,76,-60,108.7,-20,109.5,125,118,-20,118.7,-60,168],
[170,75.1,-60,109.5,-20,111.2,125,116.3,-20,118,-60,168],
[170,73.4,-60,109.5,-20,112.9,125,114.5,-20,118,-60,168],
[170,70.9,-60,111.2,-20,116.3,-60,168],
[170,70,-60,112.9,-20,114.5,-60,168],
[170,68.4,-60,168],
[170,65.9,-60,168],
[170,64.2,-60,168],
[170,61.7,-60,168],
[170,61.7,-60,168],
[170,61.7,-60,168],
[170,61.7,-60,168]
];

// Layout of each subplot (page geometry, no data)
const layouts = [
  {key:'a', rows:panelA, left:152.4, right:1837, top:81.5, bottom:452.7, tickEnd:135, ylabelX:58, cbLeft:1904, cbRight:1944, cbTop:96, cbBottom:425, unitX:1858, unitY:67},
  {key:'b', rows:panelB, left:160, right:1829, top:686, bottom:1053, tickEnd:141, ylabelX:66, cbLeft:1897, cbRight:1934, cbTop:699, cbBottom:1026, unitX:1852, unitY:670},
  {key:'c', rows:panelC, left:152.4, right:1837, top:1286, bottom:1656.7, tickEnd:135, ylabelX:58, cbLeft:1897, cbRight:1934, cbTop:1303, cbBottom:1629, unitX:1852, unitY:1275},
  {key:'d', rows:panelD, left:152.4, right:1837, top:1890.7, bottom:2261.7, tickEnd:135, ylabelX:58, cbLeft:1897, cbRight:1934, cbTop:1908, cbBottom:2234, unitX:1852, unitY:1880},
  {key:'true', rows:panelTrue, left:152, right:1837, top:2773, bottom:3146, tickEnd:135, ylabelX:58, cbLeft:1904, cbRight:1944, cbTop:2787, cbBottom:3117, unitX:1858, unitY:2758}
];

const NS = 'http://www.w3.org/2000/svg';
const XMIN = 7455.8, XMAX = 7567.5, DMAX = 24.75, VMIN = -130, VMAX = 230;
const NCOLS = 134, NROWS = 33, NORTHING_BASE = 7400;
const svg = document.getElementById('figure');

function make(tag, attrs, parent) {
  const node = document.createElementNS(NS, tag);
  for (const k in attrs) node.setAttribute(k, attrs[k]);
  parent.appendChild(node);
  return node;
}
function hexToRgb(h) {
  return [parseInt(h.slice(1,3),16), parseInt(h.slice(3,5),16), parseInt(h.slice(5,7),16)];
}
function colorFor(v) {
  if (v <= colormapValues[0]) return colormapColors[0];
  for (let i = 1; i < colormapValues.length; i++) {
    if (v <= colormapValues[i]) {
      const t = (v - colormapValues[i-1]) / (colormapValues[i] - colormapValues[i-1]);
      const a = hexToRgb(colormapColors[i-1]), b = hexToRgb(colormapColors[i]);
      return 'rgb(' + a.map((c, j) => Math.round(c + (b[j] - c) * t)).join(',') + ')';
    }
  }
  return colormapColors[colormapColors.length - 1];
}
function valueAt(row, northing) {
  const off = northing - NORTHING_BASE;
  for (let i = 0; i + 1 < row.length; i += 2) {
    if (off < row[i + 1]) return row[i];
  }
  return row[row.length - 2];
}

layouts.forEach(function (p) {
  const xScale = n => p.left + (n - XMIN) * (p.right - p.left) / (XMAX - XMIN);
  const yScale = d => p.top + d * (p.bottom - p.top) / DMAX;
  const cbScale = v => p.cbTop + (VMAX - v) * (p.cbBottom - p.cbTop) / (VMAX - VMIN);
  const group = make('g', {}, svg);
  
  

  // heatmap cells, adjacent equal values merged per row
  const dn = (XMAX - XMIN) / NCOLS;
  const dz = DMAX / NROWS;
  const heat = make('g', {'shape-rendering': 'crispEdges'}, group);
  
  
  p.rows.forEach(function (row, r) {
    const y0 = Math.round(yScale(r * dz));
    const y1 = Math.round(yScale((r + 1) * dz));
    let start = 0;
    let cur = valueAt(row, XMIN + 0.5 * dn);
    for (let c = 1; c <= NCOLS; c++) {
      const v = c < NCOLS ? valueAt(row, XMIN + (c + 0.5) * dn) : null;
      if (v !== cur) {
        const x0 = Math.round(xScale(XMIN + start * dn));
        const x1 = Math.round(xScale(XMIN + c * dn));
        const cell = make('rect', {x: x0, y: y0, width: x1 - x0, height: y1 - y0, fill: colorFor(cur)}, heat);
        
        
        start = c;
        cur = v;
      }
    }
  });

  // grid lines and ticks
  northingTicks.forEach(function (t) {
    const x = xScale(t);
    const grid = make('line', {x1: x, x2: x, y1: p.top, y2: p.bottom, stroke: 'rgba(50,50,50,0.22)', 'stroke-width': 2}, group);
    
    
    const tickTop = make('line', {x1: x, x2: x, y1: p.top, y2: p.top + 17, stroke: '#1a1a1a', 'stroke-width': 2.5}, group);
    
    
    const tickBottom = make('line', {x1: x, x2: x, y1: p.bottom - 17, y2: p.bottom, stroke: '#1a1a1a', 'stroke-width': 2.5}, group);
    
    
    const label = make('text', {x: x, y: p.bottom + 64, 'text-anchor': 'middle', 'font-size': 53}, group);
    label.textContent = t;
    
    
  });
  depthTicks.forEach(function (t) {
    const y = yScale(t);
    if (t > 0) {
      const grid = make('line', {x1: p.left, x2: p.right, y1: y, y2: y, stroke: 'rgba(50,50,50,0.26)', 'stroke-width': 2.5}, group);
      
      
      const tickLeft = make('line', {x1: p.left, x2: p.left + 18, y1: y, y2: y, stroke: '#1a1a1a', 'stroke-width': 2.5}, group);
      
      
      const tickRight = make('line', {x1: p.right - 18, x2: p.right, y1: y, y2: y, stroke: '#1a1a1a', 'stroke-width': 2.5}, group);
      
      
    }
    const label = make('text', {x: p.tickEnd, y: y + 18, 'text-anchor': 'end', 'font-size': 53}, group);
    label.textContent = t;
    
    
  });

  // axes frame
  const frame = make('rect', {x: p.left, y: p.top, width: p.right - p.left, height: p.bottom - p.top, fill: 'none', stroke: '#2b2b2b', 'stroke-width': 3}, group);
  
  

  // axis titles
  const xTitle = make('text', {x: 823, y: p.bottom + 133, 'font-size': 59, textLength: 343, lengthAdjust: 'spacingAndGlyphs'}, group);
  xTitle.textContent = 'Northing (km)';
  
  
  const yMid = (p.top + p.bottom) / 2 + 3;
  const yTitle = make('text', {x: p.ylabelX, y: yMid, 'font-size': 59, 'text-anchor': 'middle', transform: 'rotate(-90 ' + p.ylabelX + ' ' + yMid + ')'}, group);
  yTitle.textContent = 'Depth (km)';
  
  

  // colourbar
  const bar = make('g', {'shape-rendering': 'crispEdges'}, group);
  
  
  const steps = 64;
  for (let i = 0; i < steps; i++) {
    const vHi = VMAX - i * (VMAX - VMIN) / steps;
    const vLo = VMAX - (i + 1) * (VMAX - VMIN) / steps;
    const yTop = Math.round(cbScale(vHi));
    const yBot = Math.round(cbScale(vLo));
    const seg = make('rect', {x: p.cbLeft, y: yTop, width: p.cbRight - p.cbLeft, height: yBot - yTop, fill: colorFor((vHi + vLo) / 2)}, bar);
    
    
  }
  const cbFrame = make('rect', {x: p.cbLeft, y: p.cbTop, width: p.cbRight - p.cbLeft, height: p.cbBottom - p.cbTop, fill: 'none', stroke: '#2b2b2b', 'stroke-width': 3}, group);
  
  
  colorbarTicks.forEach(function (t) {
    const y = cbScale(t);
    const tick = make('line', {x1: p.cbRight - 10, x2: p.cbRight, y1: y, y2: y, stroke: '#1a1a1a', 'stroke-width': 2.5}, group);
    
    
    const label = make('text', {x: p.cbRight + 18, y: y + 17, 'font-size': 49}, group);
    label.textContent = t;
    
    
  });
  const unit = make('text', {x: p.unitX, y: p.unitY, 'font-size': 48}, group);
  unit.textContent = 'kg/m';
  
  
  const sup = make('text', {x: p.unitX + 104, y: p.unitY - 25, 'font-size': 32}, group);
  sup.textContent = '3';
  
  
});
</script>
</body>
</html>
